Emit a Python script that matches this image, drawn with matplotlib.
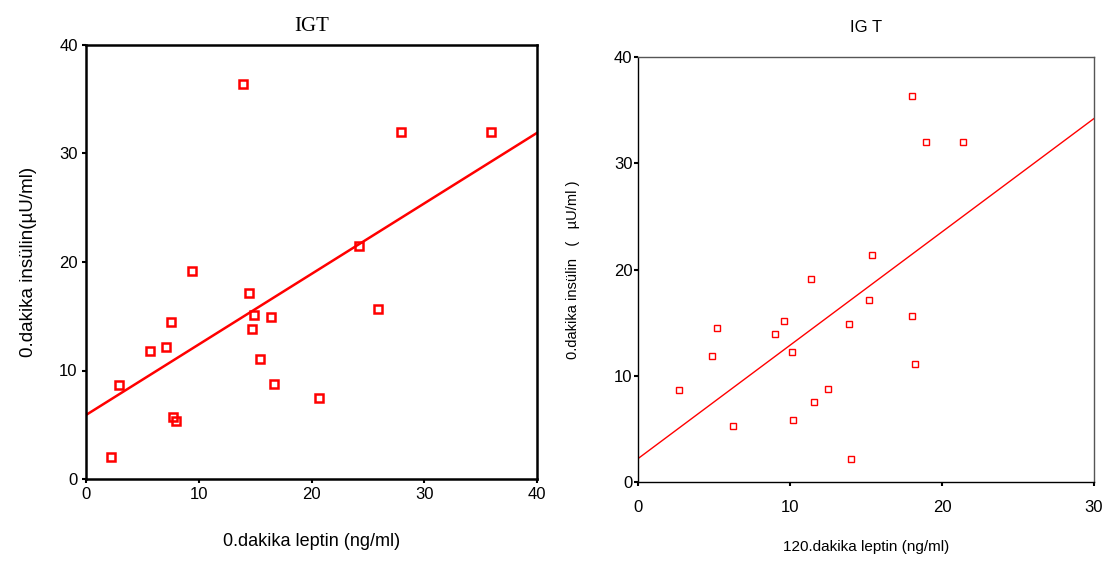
import numpy as np
import matplotlib
matplotlib.use("Agg")
import matplotlib.pyplot as plt

# left panel: 0.dakika leptin vs 0.dakika insulin
leptin_0 = [2.2, 2.9, 5.7, 7.1, 7.5, 7.7, 8.0, 9.4, 13.9, 14.5,
            14.7, 14.9, 15.4, 16.4, 16.7, 20.7, 24.2, 25.9, 27.9, 35.9]
insulin_0_a = [2.0, 8.7, 11.8, 12.2, 14.5, 5.7, 5.3, 19.2, 36.4, 17.1,
               13.8, 15.1, 11.1, 14.9, 8.8, 7.5, 21.5, 15.7, 32.0, 32.0]
fit_left = (5.9, 0.65)  # intercept, slope

# right panel: 120.dakika leptin vs 0.dakika insulin
leptin_120 = [18.05, 18.97, 21.4, 15.4, 11.4, 15.2, 18.0, 13.9, 9.6, 9.0,
              5.2, 4.9, 10.1, 18.2, 2.7, 12.5, 11.6, 6.25, 10.2, 14.0]
insulin_0_b = [36.3, 32.0, 32.0, 21.4, 19.1, 17.1, 15.65, 14.9, 15.2, 13.9,
               14.5, 11.9, 12.2, 11.1, 8.7, 8.8, 7.5, 5.3, 5.8, 2.2]
fit_right = (2.2, 1.067)

W, H = 1116, 563
fig = plt.figure(figsize=(W / 100, H / 100), dpi=100)

###
### left panel
###
ax1 = fig.add_axes([86 / W, 1 - 479 / H, 451 / W, 434 / H])
ax1.plot(leptin_0, insulin_0_a, linestyle='none', marker='s', markersize=5.5,
         markerfacecolor='none', markeredgecolor='red', markeredgewidth=1.8)
xs = np.array([0, 40])
ax1.plot(xs, fit_left[0] + fit_left[1] * xs, color='red', linewidth=1.8)
ax1.set_xlim(0, 40)
ax1.set_ylim(0, 40)
ax1.set_xticks([0, 10, 20, 30, 40])
ax1.set_yticks([0, 10, 20, 30, 40])
for s in ax1.spines.values():
    s.set_linewidth(1.8)
ax1.tick_params(length=3, width=1.5, pad=3, labelsize=12)
for lab in ax1.get_xticklabels() + ax1.get_yticklabels():
    lab.set_family('Liberation Sans')
ax1.set_title('IGT', fontsize=15, family='Liberation Serif', pad=10)
ax1.set_xlabel('0.dakika leptin (ng/ml)', fontsize=13,
               family='Liberation Sans', labelpad=22)
ax1.set_ylabel('0.dakika insülin(µU/ml)', fontsize=13.5,
               family='Liberation Sans', labelpad=16)

###
### right panel
###
ax2 = fig.add_axes([638 / W, 1 - 482 / H, 456 / W, 425 / H])
ax2.plot(leptin_120, insulin_0_b, linestyle='none', marker='s', markersize=5,
         markerfacecolor='none', markeredgecolor='red', markeredgewidth=1.0)
xs = np.array([0, 30])
ax2.plot(xs, fit_right[0] + fit_right[1] * xs, color='red', linewidth=1.0)
ax2.set_xlim(0, 30)
ax2.set_ylim(0, 40)
ax2.set_xticks([0, 10, 20, 30])
ax2.set_yticks([0, 10, 20, 30, 40])
for s in ax2.spines.values():
    s.set_linewidth(1.0)
ax2.spines['top'].set_color('#555555')
ax2.spines['right'].set_color('#555555')
ax2.tick_params(axis='x', length=3, width=1.5, pad=10, labelsize=12)
ax2.tick_params(axis='y', length=3, width=1.5, pad=1, labelsize=12)
for lab in ax2.get_xticklabels() + ax2.get_yticklabels():
    lab.set_family('Liberation Sans')
ax2.set_title('IG T', fontsize=12, family='Liberation Sans', pad=18)
ax2.set_xlabel('120.dakika leptin (ng/ml)', fontsize=11,
               family='Liberation Sans', labelpad=18)
ax2.set_ylabel('0.dakika insülin   (   µU/ml )', fontsize=10.5,
               family='Liberation Sans', labelpad=24)

fig.savefig('out.png', dpi=100)
